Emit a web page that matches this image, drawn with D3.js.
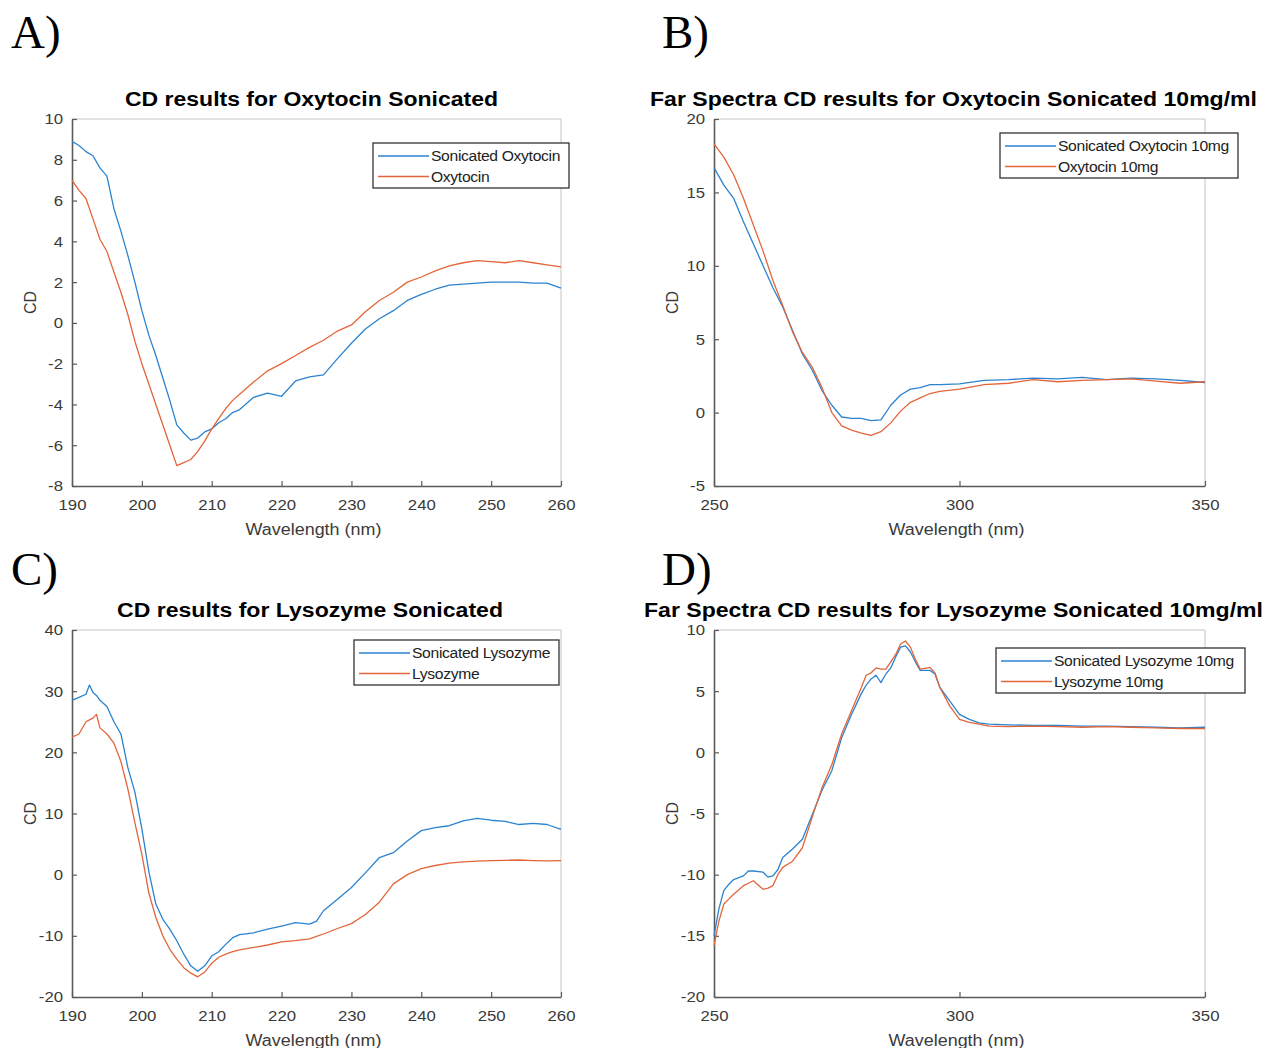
<!DOCTYPE html>
<html>
<head>
<meta charset="utf-8">
<script src="https://cdn.jsdelivr.net/npm/d3@7"></script>
<style>
  body { margin: 0; background: #fff; }
  svg text { font-family: "Liberation Sans", Arial, sans-serif; }
</style>
</head>
<body>
<svg id="chart" width="1266" height="1048"></svg>
<script>
// A) oxytocin, near UV
const aWl = [190,191,192,193,194,195,196,197,198,199,200,201,202,203,204,205,206,207,208,209,210,211,212,213,214,216,218,220,222,224,226,228,230,232,234,236,238,240,242,244,246,248,250,252,254,256,258,260];
const aSonicated = [8.9,8.7,8.4,8.2,7.6,7.2,5.6,4.5,3.3,2.0,0.6,-0.6,-1.6,-2.7,-3.8,-5.0,-5.4,-5.75,-5.65,-5.35,-5.2,-4.9,-4.7,-4.4,-4.25,-3.65,-3.45,-3.6,-2.85,-2.65,-2.55,-1.75,-1.0,-0.3,0.2,0.6,1.1,1.4,1.65,1.85,1.9,1.95,2.0,2.0,2.0,1.95,1.95,1.7];
const aNative = [7.0,6.5,6.1,5.1,4.1,3.5,2.5,1.5,0.4,-0.9,-2.0,-3.0,-4.0,-5.0,-6.0,-7.0,-6.85,-6.7,-6.3,-5.8,-5.2,-4.7,-4.2,-3.8,-3.5,-2.9,-2.35,-2.0,-1.6,-1.2,-0.85,-0.4,-0.1,0.55,1.1,1.5,2.0,2.25,2.55,2.8,2.95,3.05,3.0,2.95,3.05,2.95,2.85,2.75];

// B) oxytocin 10mg/ml, far spectra
const bWl = [250,252,254,256,258,260,262,264,266,268,270,272,274,276,278,280,282,284,286,288,290,292,294,296,300,305,310,315,320,325,330,335,340,345,350];
const bSonicated = [16.7,15.5,14.6,13.0,11.5,10.0,8.5,7.2,5.6,4.0,2.9,1.5,0.5,-0.3,-0.4,-0.4,-0.55,-0.5,0.5,1.2,1.6,1.7,1.9,1.9,1.95,2.2,2.25,2.35,2.3,2.4,2.25,2.35,2.3,2.2,2.05];
const bNative = [18.3,17.4,16.2,14.6,12.8,11.0,9.0,7.3,5.5,4.1,3.1,1.7,0.0,-0.9,-1.2,-1.4,-1.55,-1.3,-0.7,0.1,0.7,1.0,1.3,1.45,1.6,1.9,2.0,2.25,2.1,2.2,2.25,2.3,2.15,2.0,2.1];

// C) lysozyme, near UV
const cWl = [190,191,192,192.5,193,193.5,194,195,196,197,198,199,200,201,202,203,204,205,206,207,208,209,210,211,212,213,214,216,218,220,222,224,225,226,228,230,232,234,236,238,240,242,244,246,248,250,252,254,256,258,260];
const cSonicated = [28.5,29.0,29.5,31.0,29.8,29.3,28.5,27.5,25.0,23.0,17.5,13.5,7.5,0.5,-4.8,-7.3,-8.9,-10.8,-13.0,-14.9,-15.8,-14.9,-13.3,-12.6,-11.4,-10.3,-9.8,-9.5,-8.9,-8.4,-7.85,-8.1,-7.6,-5.9,-4.0,-2.1,0.3,2.8,3.6,5.5,7.2,7.7,8.0,8.8,9.2,8.9,8.7,8.2,8.4,8.2,7.4];
const cNative = [22.5,23.0,25.0,25.3,25.6,26.2,24.0,23.0,21.5,18.5,14.0,8.5,3.3,-3.0,-7.0,-10.0,-12.2,-13.8,-15.2,-16.1,-16.7,-15.9,-14.5,-13.5,-13.0,-12.6,-12.3,-11.9,-11.5,-11.0,-10.8,-10.5,-10.1,-9.7,-8.8,-8.0,-6.5,-4.5,-1.5,0.0,1.0,1.5,1.9,2.1,2.2,2.3,2.35,2.4,2.3,2.25,2.3];

// D) lysozyme 10mg/ml, far spectra
const dWl = [250,251,252,253,254,256,257,258,260,261,262,263,264,266,268,270,272,274,276,278,280,281,282,283,284,285,286,287,288,289,290,291,292,294,295,296,298,300,302,304,306,310,315,320,325,330,335,340,345,350];
const dSonicated = [-15.0,-12.8,-11.3,-10.8,-10.4,-10.1,-9.7,-9.7,-9.8,-10.2,-10.1,-9.6,-8.6,-7.9,-7.1,-5.1,-3.1,-1.5,1.2,3.1,4.8,5.5,6.0,6.3,5.7,6.4,6.9,7.8,8.6,8.7,8.2,7.4,6.7,6.7,6.4,5.3,4.2,3.1,2.7,2.4,2.3,2.25,2.2,2.2,2.15,2.15,2.1,2.05,2.0,2.05];
const dNative = [-15.8,-13.8,-12.4,-12.0,-11.6,-10.9,-10.7,-10.5,-11.2,-11.1,-10.9,-10.0,-9.4,-8.9,-7.8,-5.3,-2.9,-1.0,1.5,3.4,5.3,6.3,6.5,6.9,6.8,6.8,7.4,8.0,8.85,9.1,8.6,7.6,6.8,6.95,6.5,5.3,3.8,2.7,2.45,2.3,2.15,2.1,2.15,2.1,2.05,2.1,2.05,2.0,1.95,1.95];

const nearTicks = [190,200,210,220,230,240,250,260];
const farTicks = [250,300,350];

const blue = '#2b83cf';
const orange = '#e2663a';

const svg = d3.select('#chart');
svg.append('rect').attr('width', 1266).attr('height', 1048).attr('fill', '#fff');

// the original figure is a bit stretched sideways, widen text to match
function stretch(sel, k) {
  sel.each(function () {
    const w = this.getComputedTextLength();
    d3.select(this).attr('textLength', w * k).attr('lengthAdjust', 'spacingAndGlyphs');
  });
}

const panels = [
  { letter: 'A)', lx: 11, ly: 48, title: 'CD results for Oxytocin Sonicated', tx: 311.5, tw: 373,
    left: 72, right: 561, top: 119, bottom: 486,
    xDom: [190, 260], xTicks: nearTicks, yDom: [-8, 10], yTicks: d3.range(-8, 11, 2),
    wl: aWl, s1: aSonicated, s2: aNative, names: ['Sonicated Oxytocin', 'Oxytocin'],
    leg: [373, 143, 196, 45] },
  { letter: 'B)', lx: 662, ly: 48, title: 'Far Spectra CD results for Oxytocin Sonicated 10mg/ml', tx: 953.5, tw: 607,
    left: 714, right: 1205, top: 119, bottom: 486,
    xDom: [250, 350], xTicks: farTicks, yDom: [-5, 20], yTicks: d3.range(-5, 21, 5),
    wl: bWl, s1: bSonicated, s2: bNative, names: ['Sonicated Oxytocin 10mg', 'Oxytocin 10mg'],
    leg: [1000, 133, 238, 45] },
  { letter: 'C)', lx: 11, ly: 585, title: 'CD results for Lysozyme Sonicated', tx: 310, tw: 386,
    left: 72, right: 561, top: 630, bottom: 997,
    xDom: [190, 260], xTicks: nearTicks, yDom: [-20, 40], yTicks: d3.range(-20, 41, 10),
    wl: cWl, s1: cSonicated, s2: cNative, names: ['Sonicated Lysozyme', 'Lysozyme'],
    leg: [354, 640, 205, 45] },
  { letter: 'D)', lx: 662, ly: 585, title: 'Far Spectra CD results for Lysozyme Sonicated 10mg/ml', tx: 953.5, tw: 619,
    left: 714, right: 1205, top: 630, bottom: 997,
    xDom: [250, 350], xTicks: farTicks, yDom: [-20, 10], yTicks: d3.range(-20, 11, 5),
    wl: dWl, s1: dSonicated, s2: dNative, names: ['Sonicated Lysozyme 10mg', 'Lysozyme 10mg'],
    leg: [996, 648, 249, 45] }
];

panels.forEach(p => {
  const x = d3.scaleLinear().domain(p.xDom).range([p.left, p.right]);
  const y = d3.scaleLinear().domain(p.yDom).range([p.bottom, p.top]);
  const g = svg.append('g');

  // panel letter
  svg.append('text')
    .attr('x', p.lx).attr('y', p.ly)
    .style('font-family', '"Liberation Serif", "Times New Roman", serif')
    .style('font-size', '47px')
    .attr('fill', '#000')
    .text(p.letter);

  // light top/right box lines
  g.append('line').attr('x1', p.left).attr('x2', p.right).attr('y1', p.top).attr('y2', p.top)
    .attr('stroke', '#c4c4c4').attr('stroke-width', 1);
  g.append('line').attr('x1', p.right).attr('x2', p.right).attr('y1', p.top).attr('y2', p.bottom)
    .attr('stroke', '#c4c4c4').attr('stroke-width', 1);

  const fmt = d => String(d);
  const xAxis = g.append('g')
    .attr('transform', `translate(0,${p.bottom})`)
    .call(d3.axisBottom(x).tickValues(p.xTicks).tickFormat(fmt).tickSizeInner(-5).tickSizeOuter(0).tickPadding(13));
  const yAxis = g.append('g')
    .attr('transform', `translate(${p.left},0)`)
    .call(d3.axisLeft(y).tickValues(p.yTicks).tickFormat(fmt).tickSizeInner(-5).tickSizeOuter(0).tickPadding(9));

  [xAxis, yAxis].forEach(ax => {
    ax.select('.domain').attr('stroke', '#5a5a5a').attr('stroke-width', 1.6);
    ax.selectAll('.tick line').attr('stroke', '#5a5a5a').attr('stroke-width', 1.2);
    ax.selectAll('.tick text')
      .attr('fill', '#3a3a3a')
      .style('font-size', '15.5px')
      .style('font-family', '"Liberation Sans", Arial, sans-serif')
      .call(stretch, 1.08);
  });

  // lines
  const line = vals => d3.line()
    .x((d, i) => x(p.wl[i]))
    .y(d => y(d))(vals);
  g.append('path').attr('d', line(p.s1)).attr('fill', 'none')
    .attr('stroke', blue).attr('stroke-width', 1.3).attr('stroke-linejoin', 'round');
  g.append('path').attr('d', line(p.s2)).attr('fill', 'none')
    .attr('stroke', orange).attr('stroke-width', 1.3).attr('stroke-linejoin', 'round');

  // title
  g.append('text')
    .attr('x', p.tx).attr('y', p.top - 13)
    .attr('text-anchor', 'middle')
    .style('font-size', '20px').style('font-weight', 'bold')
    .attr('fill', '#000')
    .attr('textLength', p.tw).attr('lengthAdjust', 'spacingAndGlyphs')
    .text(p.title);

  // axis labels
  g.append('text')
    .attr('x', (p.left + p.right) / 2 - 3).attr('y', p.bottom + 49)
    .attr('text-anchor', 'middle')
    .style('font-size', '16px')
    .attr('fill', '#3a3a3a')
    .text('Wavelength (nm)')
    .call(stretch, 1.12);
  g.append('text')
    .attr('transform', `translate(${p.left - 36},${(p.top + p.bottom) / 2}) rotate(-90)`)
    .attr('text-anchor', 'middle')
    .style('font-size', '16px')
    .attr('fill', '#3a3a3a')
    .text('CD');

  // legend
  const [lx, ly, lw, lh] = p.leg;
  const lg = g.append('g');
  lg.append('rect').attr('x', lx).attr('y', ly).attr('width', lw).attr('height', lh)
    .attr('fill', '#fff').attr('stroke', '#333').attr('stroke-width', 1.3);
  [[p.names[0], blue], [p.names[1], orange]].forEach(([name, col], i) => {
    const yy = ly + 13 + i * 20.5;
    lg.append('line').attr('x1', lx + 5).attr('x2', lx + 56).attr('y1', yy).attr('y2', yy)
      .attr('stroke', col).attr('stroke-width', 1.3);
    lg.append('text').attr('x', lx + 58).attr('y', yy + 5)
      .style('font-size', '14px').style('letter-spacing', '-0.3px')
      .attr('fill', '#222')
      .text(name)
      .call(stretch, 1.12);
  });
});
</script>
</body>
</html>
